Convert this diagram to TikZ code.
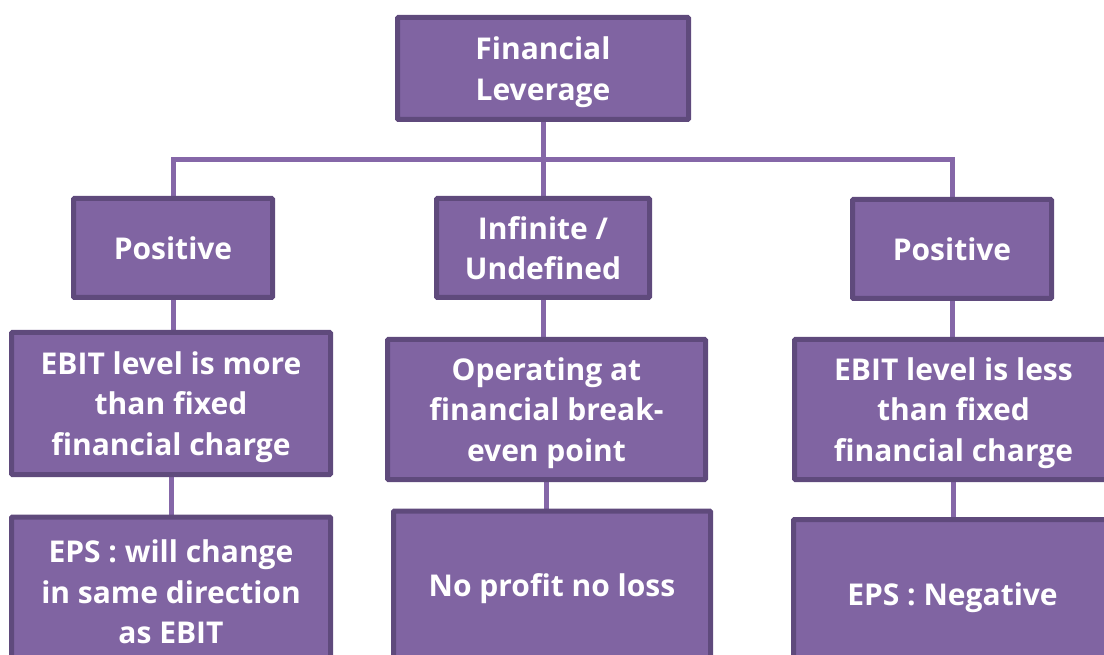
\documentclass[tikz,border=0pt]{standalone}
\usepackage{fontspec}
\setmainfont{Open Sans}
\usetikzlibrary{backgrounds}
\definecolor{boxfill}{HTML}{8064A2}
\definecolor{boxline}{HTML}{5F4A7C}
\definecolor{connline}{HTML}{8567A8}
\tikzset{
  box/.style={draw=boxline, line width=5pt, fill=boxfill, text=white, align=center,
    font=\bfseries\fontsize{30}{40.5}\selectfont, inner sep=0pt, outer sep=0pt,
    text depth=0pt, rounded corners=1pt},
  conn/.style={draw=connline, line width=5pt}
}
\begin{document}
\begin{tikzpicture}[x=1pt,y=-1pt]
\useasboundingbox (0,0) rectangle (1104,655);
\clip (0,0) rectangle (1104,655);
\node[box, minimum width=291pt, minimum height=102pt] (top) at (543,68.5) {Financial\\Leverage};
\node[box, minimum width=199pt, minimum height=99pt] (l1a) at (173,248) {Positive};
\node[box, minimum width=213pt, minimum height=99pt] (l1b) at (543,248) {Infinite /\\Undefined};
\node[box, minimum width=199pt, minimum height=99pt] (l1c) at (952,249) {Positive};
\node[box, minimum width=319pt, minimum height=142pt] (l2a) at (171,403.5) {EBIT level is more\\than fixed\\financial charge};
\node[box, minimum width=318pt, minimum height=140pt] (l2b) at (546.5,409.5) {Operating at\\financial break-\\even point};
\node[box, minimum width=318pt, minimum height=140pt] (l2c) at (953.5,409.5) {EBIT level is less\\than fixed\\financial charge};
\node[box, minimum width=319pt, minimum height=150pt] (l3a) at (171,592) {EPS : will change\\in same direction\\as EBIT};
\node[box, minimum width=317pt, minimum height=148pt] (l3b) at (552,585) {No profit no loss};
\node[box, minimum width=318pt, minimum height=149pt] (l3c) at (952.5,594) {EPS : Negative};
\coordinate (bus) at (543,160);
\begin{scope}[on background layer]
\draw[conn] (l1a.north) |- (bus) -| (l1c.north);
\draw[conn] (top.south) -- (l1b.north);
\draw[conn] (l1a.south) -- (l1a.south |- l2a.north);
\draw[conn] (l1b.south) -- (l1b.south |- l2b.north);
\draw[conn] (l1c.south) -- (l1c.south |- l2c.north);
\draw[conn] (l2a.south) -- (l2a.south |- l3a.north);
\draw[conn] (l2b.south) -- (l2b.south |- l3b.north);
\draw[conn] (l2c.south) -- (l2c.south |- l3c.north);
\end{scope}
\end{tikzpicture}
\end{document}
